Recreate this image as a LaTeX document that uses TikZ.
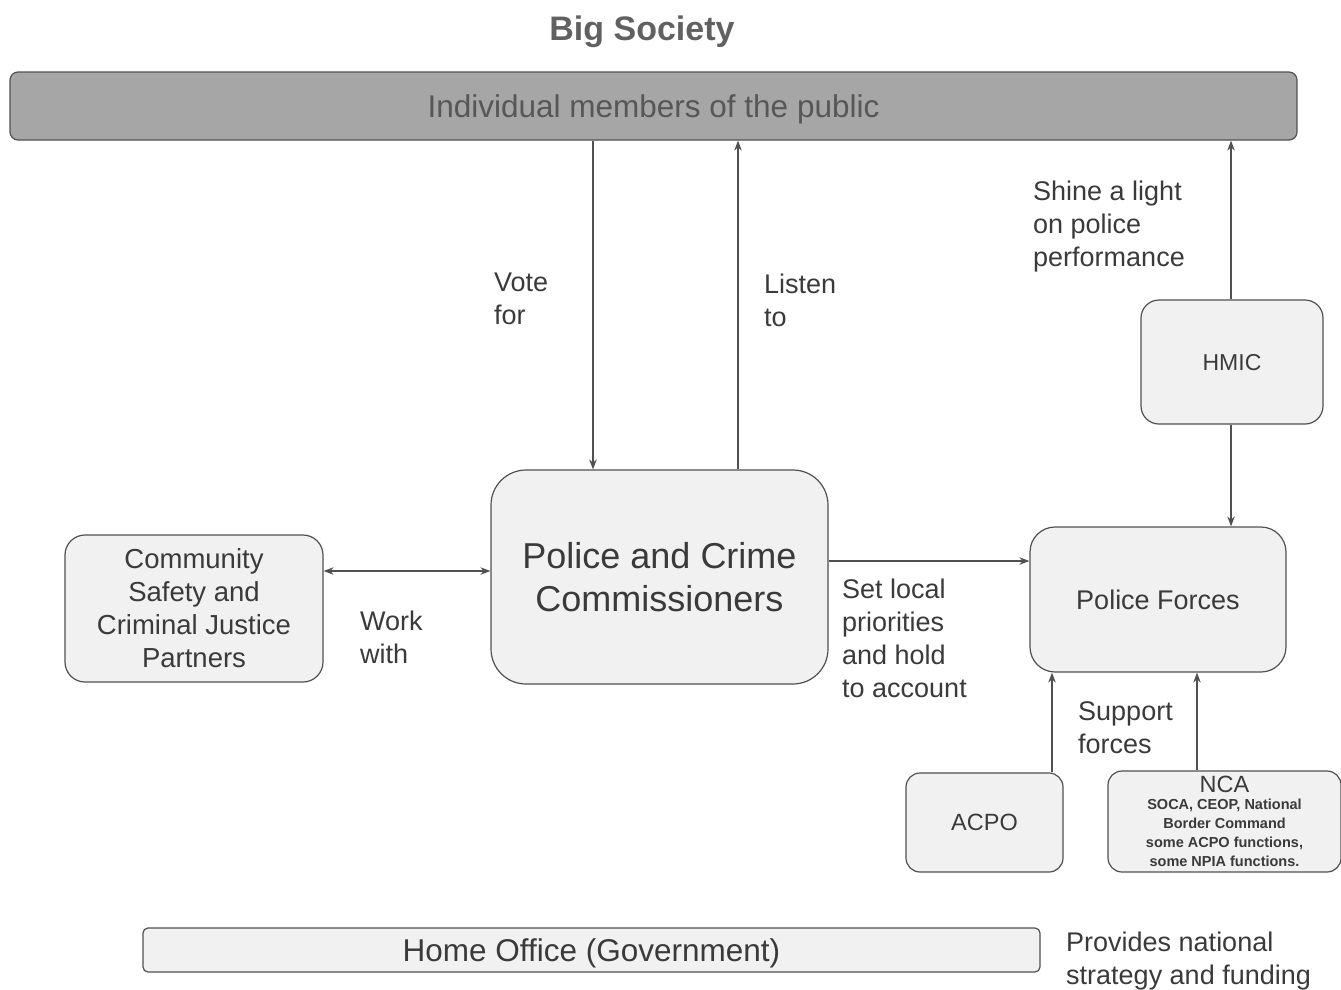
\documentclass[tikz,border=0pt]{standalone}
\usepackage{fontspec}
\setmainfont{Liberation Sans}
\usetikzlibrary{arrows.meta}
\definecolor{ink}{HTML}{3A3A3A}
\definecolor{edge}{HTML}{505050}
\definecolor{boxfill}{HTML}{F1F1F1}
\definecolor{barfill}{HTML}{A6A6A6}
\begin{document}
\begin{tikzpicture}[x=1pt,y=-1pt,
  every node/.style={text=ink},
  box/.style={draw=edge,line width=1.2pt,fill=boxfill,rounded corners=#1,inner sep=0pt,align=center},
  box/.default=20pt,
  lbl/.style={anchor=west,align=left,inner sep=0pt,font=\fontsize{27}{33}\selectfont},
  arr/.style={draw=edge,line width=1.2pt,-{Stealth[length=10pt,width=7.5pt]}},
  dbl/.style={draw=edge,line width=1.2pt,{Stealth[length=10pt,width=7.5pt]}-{Stealth[length=10pt,width=7.5pt]}}
]
\useasboundingbox (0,0) rectangle (1341,989);
% title
\node[font=\bfseries\fontsize{34}{38}\selectfont,text=edge!90,text depth=0pt] (title) at (642,28) {Big Society};
% top bar
\node[box=8pt,fill=barfill,minimum width=1287pt,minimum height=68pt,font=\fontsize{31.5}{34}\selectfont,text=ink!85,text depth=0pt] (public) at (653.5,106) {Individual members of the public};
% PCC
\node[box=35pt,minimum width=337pt,minimum height=214pt,font=\fontsize{36}{43}\selectfont] (pcc) at (659.5,577) {Police and Crime\\Commissioners};
% community
\node[box=20pt,minimum width=258pt,minimum height=147pt,font=\fontsize{27.5}{33}\selectfont] (csp) at (194,608.5) {Community\\Safety and\\Criminal Justice\\Partners};
% police forces
\node[box=25pt,minimum width=256pt,minimum height=145pt,font=\fontsize{27}{33}\selectfont,text depth=0pt] (pf) at (1158,599.5) {Police Forces};
% HMIC
\node[box=18pt,minimum width=182pt,minimum height=124pt,font=\fontsize{23}{28}\selectfont,text depth=0pt] (hmic) at (1232,362) {HMIC};
% ACPO
\node[box=14pt,minimum width=157pt,minimum height=99pt,font=\fontsize{23.5}{28}\selectfont,text depth=0pt] (acpo) at (984.5,822.5) {ACPO};
% NCA
\node[box=14pt,minimum width=233pt,minimum height=101pt,font=\fontsize{14.5}{19}\selectfont\bfseries] (nca) at (1224.5,821.5) {{\mdseries\fontsize{23.5}{22}\selectfont NCA}\\[-2pt]SOCA, CEOP, National\\Border Command\\some ACPO functions,\\some NPIA functions.};
% Home office
\node[box=5pt,minimum width=897pt,minimum height=44pt,font=\fontsize{31.5}{34}\selectfont,text depth=0pt] (ho) at (591.5,950) {Home Office (Government)};

% connectors
\draw[arr] (public.south -| 593,0) -- (pcc.north -| 593,0);
\draw[arr] (pcc.north -| 738,0) -- (public.south -| 738,0);
\draw[arr] (hmic.north -| 1231,0) -- (public.south -| 1231,0);
\draw[arr] (hmic.south -| 1231,0) -- (pf.north -| 1231,0);
\draw[arr] (pcc.east |- 0,561) -- (pf.west |- 0,561);
\draw[dbl] (csp.east |- 0,571) -- (pcc.west |- 0,571);
\draw[arr] (acpo.north -| 1052,0) -- (pf.south -| 1052,0);
\draw[arr] (nca.north -| 1197,0) -- (pf.south -| 1197,0);

% labels
\node[lbl] (lvote) at (494,299) {Vote\\for};
\node[lbl] (llisten) at (764,300) {Listen\\to};
\node[lbl] (lshine) at (1033,227) {Shine a light\\on police\\performance};
\node[lbl] (lwork) at (360,637) {Work\\with};
\node[lbl] (lset) at (842,638) {Set local\\priorities\\and hold\\to account};
\node[lbl] (lsup) at (1078,728) {Support\\forces};
\node[lbl] (lprov) at (1066,961) {Provides national\\strategy and funding};
\end{tikzpicture}
\end{document}
